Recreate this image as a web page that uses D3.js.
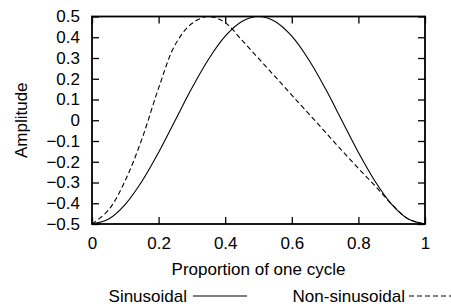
<!DOCTYPE html>
<html>
<head>
<meta charset="utf-8">
<script src="https://cdn.jsdelivr.net/npm/d3@7"></script>
<style>
  body { margin: 0; background: #fff; }
  svg { display: block; font-family: "Liberation Sans", Arial, sans-serif; }
  .axis text { font-size: 17px; fill: #000; }
  .label { font-size: 17px; fill: #000; }
</style>
</head>
<body>
<svg id="chart"></svg>
<script>
// proportion of one cycle
const cycle = [0, 0.05, 0.1, 0.15, 0.2, 0.25, 0.3, 0.35, 0.4, 0.45, 0.5,
  0.55, 0.6, 0.65, 0.7, 0.75, 0.8, 0.85, 0.9, 0.95, 1];
const sinusoidal = [-0.5, -0.476, -0.405, -0.294, -0.155, 0, 0.155, 0.294, 0.405, 0.476, 0.5,
  0.476, 0.405, 0.294, 0.155, 0, -0.155, -0.294, -0.405, -0.476, -0.5];
const nonSinusoidal = [-0.5, -0.432, -0.29, -0.09, 0.155, 0.365, 0.466, 0.5, 0.47, 0.386, 0.298,
  0.21, 0.121, 0.033, -0.056, -0.145, -0.232, -0.316, -0.405, -0.476, -0.5];
const xTicks = [0, 0.2, 0.4, 0.6, 0.8, 1];
const yTicks = [-0.5, -0.4, -0.3, -0.2, -0.1, 0, 0.1, 0.2, 0.3, 0.4, 0.5];
const seriesNames = ["Sinusoidal", "Non-sinusoidal"];

class CycleChart {
  constructor(_config) {
    this.config = {
      parentElement: _config.parentElement,
      containerWidth: _config.containerWidth || 451,
      containerHeight: _config.containerHeight || 304,
      margin: _config.margin || { top: 16.5, right: 26, bottom: 80, left: 92 },
    };
    this.initVis();
  }

  initVis() {
    let vis = this;

    vis.width = vis.config.containerWidth - vis.config.margin.left - vis.config.margin.right;
    vis.height = vis.config.containerHeight - vis.config.margin.top - vis.config.margin.bottom;

    vis.svg = d3.select(vis.config.parentElement)
      .attr("width", vis.config.containerWidth)
      .attr("height", vis.config.containerHeight);

    vis.chart = vis.svg.append("g")
      .attr("transform", `translate(${vis.config.margin.left},${vis.config.margin.top})`);

    vis.xScale = d3.scaleLinear().domain([0, 1]).range([0, vis.width]);
    vis.yScale = d3.scaleLinear().domain([-0.5, 0.5]).range([vis.height, 0]);

    const fmt = (d) => (d === 0 ? "0" : d3.format("")(+d.toFixed(1)));

    // bottom axis with labels, ticks pointing inward
    vis.chart.append("g")
      .attr("class", "axis")
      .attr("transform", `translate(0,${vis.height})`)
      .call(d3.axisBottom(vis.xScale).tickValues(xTicks).tickFormat(fmt)
        .tickSizeInner(-7).tickSizeOuter(0).tickPadding(12.5));

    // left axis with labels
    vis.chart.append("g")
      .attr("class", "axis")
      .call(d3.axisLeft(vis.yScale).tickValues(yTicks).tickFormat(fmt)
        .tickSizeInner(-7).tickSizeOuter(0).tickPadding(12));

    // mirrored ticks
    vis.chart.append("g")
      .attr("class", "axis")
      .call(d3.axisTop(vis.xScale).tickValues(xTicks).tickFormat("")
        .tickSizeInner(-7).tickSizeOuter(0));

    vis.chart.append("g")
      .attr("class", "axis")
      .attr("transform", `translate(${vis.width},0)`)
      .call(d3.axisRight(vis.yScale).tickValues(yTicks).tickFormat("")
        .tickSizeInner(-7).tickSizeOuter(0));

    vis.chart.selectAll(".axis .domain").remove();
    vis.chart.selectAll(".axis line").attr("stroke", "#000").attr("stroke-width", 1.3);

    vis.chart.append("rect")
      .attr("width", vis.width)
      .attr("height", vis.height)
      .attr("fill", "none")
      .attr("stroke", "#000")
      .attr("stroke-width", 1.8);

    // axis titles
    vis.chart.append("text")
      .attr("class", "label")
      .attr("x", vis.width / 2)
      .attr("y", vis.height + 51)
      .attr("text-anchor", "middle")
      .text("Proportion of one cycle");

    vis.chart.append("text")
      .attr("class", "label")
      .attr("transform", "rotate(-90)")
      .attr("x", -vis.height / 2)
      .attr("y", 27 - vis.config.margin.left)
      .attr("text-anchor", "middle")
      .text("Amplitude");

    vis.updateVis();
  }

  updateVis() {
    let vis = this;

    vis.line = d3.line()
      .x((d) => vis.xScale(d[0]))
      .y((d) => vis.yScale(d[1]))
      .curve(d3.curveCatmullRom.alpha(0.5));

    const series = [
      { name: seriesNames[0], values: d3.zip(cycle, sinusoidal), dash: null },
      { name: seriesNames[1], values: d3.zip(cycle, nonSinusoidal), dash: "5,3" },
    ];

    vis.chart.selectAll(".line-path")
      .data(series)
      .join("path")
      .attr("class", "line-path")
      .attr("fill", "none")
      .attr("stroke", "#000")
      .attr("stroke-width", 1.1)
      .attr("stroke-dasharray", (d) => d.dash)
      .attr("d", (d) => vis.line(d.values));

    // legend below the x label
    const legendY = 296;
    const legendItems = [
      { textRight: 187, lineStart: 193 },
      { textRight: 405, lineStart: 409 },
    ];

    vis.legend = vis.svg.append("g").attr("class", "legend");

    vis.legend.selectAll("text")
      .data(series)
      .join("text")
      .attr("class", "label")
      .attr("x", (d, i) => legendItems[i].textRight)
      .attr("y", legendY + 5.5)
      .attr("text-anchor", "end")
      .text((d) => d.name);

    vis.legend.selectAll("line")
      .data(series)
      .join("line")
      .attr("x1", (d, i) => legendItems[i].lineStart)
      .attr("x2", (d, i) => legendItems[i].lineStart + 54)
      .attr("y1", legendY)
      .attr("y2", legendY)
      .attr("stroke", "#000")
      .attr("stroke-width", 1.1)
      .attr("stroke-dasharray", (d) => d.dash);
  }
}

new CycleChart({ parentElement: "#chart" });
</script>
</body>
</html>
